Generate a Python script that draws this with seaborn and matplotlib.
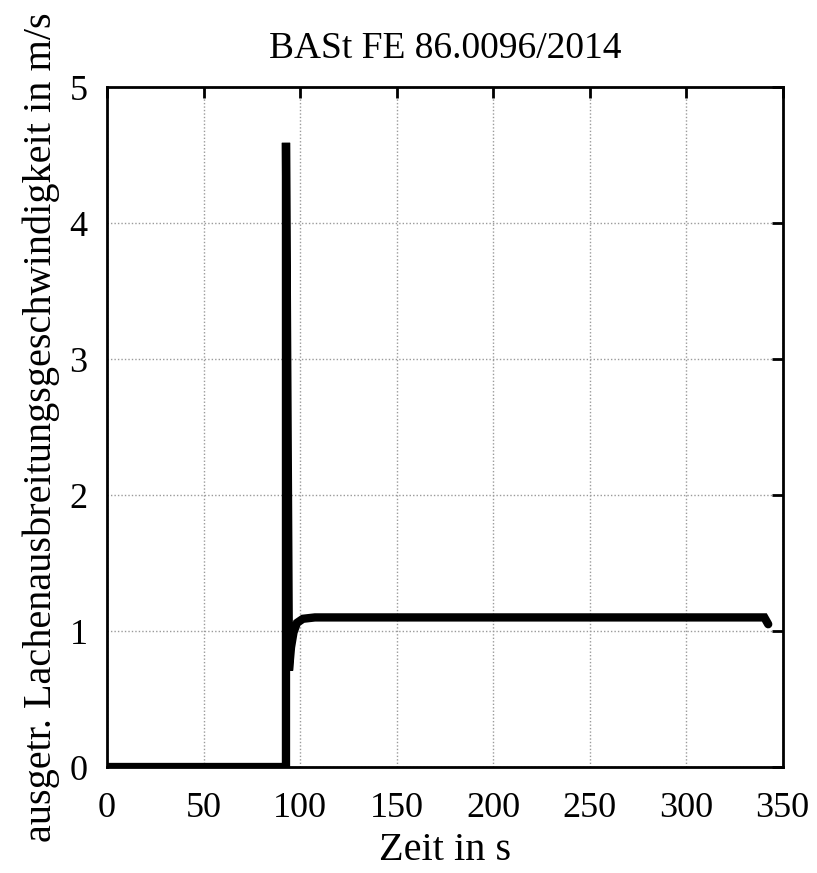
import matplotlib
matplotlib.use("Agg")
import matplotlib.pyplot as plt
import seaborn as sns
import pandas as pd

# data
zeit = [0, 92.5, 92.7, 92.7, 94.25, 95.3, 96.6, 98.4, 101.5, 107.7, 150, 200, 250, 300, 340.5, 342.5]
geschw = [0, 0, 0, 4.59, 0.71, 0.88, 0.99, 1.06, 1.09, 1.10, 1.10, 1.10, 1.10, 1.10, 1.10, 1.05]
xticks = [0, 50, 100, 150, 200, 250, 300, 350]
yticks = [0, 1, 2, 3, 4, 5]

title = "BASt FE 86.0096/2014"
xlabel = "Zeit in s"
ylabel = "ausgetr. Lachenausbreitungsgeschwindigkeit in m/s"

sns.set_theme(style="white")
plt.rcParams["font.family"] = ["Liberation Serif", "DejaVu Serif"]
plt.rcParams["text.color"] = "black"
plt.rcParams["axes.labelcolor"] = "black"

df = pd.DataFrame({"Zeit": zeit, "v": geschw})

fig = plt.figure(figsize=(8.17, 8.73), dpi=100)
ax = fig.add_axes([0.131, 0.1214, 0.827, 0.7789])

sns.lineplot(data=df, x="Zeit", y="v", sort=False, estimator=None,
             color="black", lw=6, ax=ax, solid_joinstyle="miter", zorder=5)

ax.set_xlim(0, 350)
ax.set_ylim(0, 5)
ax.set_xticks(xticks)
ax.set_yticks(yticks)
ax.set_xticklabels([str(t) for t in xticks])
ax.set_yticklabels([str(t) for t in yticks])
ax.grid(True, linestyle=(0, (1, 1.5)), color="#9a9a9a", lw=1.0)
ax.tick_params(direction="in", length=8, width=2, top=True, right=True,
               labelsize=26, colors="black")
ax.tick_params(axis="x", pad=18)
ax.tick_params(axis="y", pad=14)
for s in ax.spines.values():
    s.set_linewidth(2)
    s.set_color("black")

ax.set_title(title, fontsize=27, pad=21, color="black")
ax.set_xlabel(xlabel, fontsize=29, labelpad=5)
ax.set_ylabel(ylabel, fontsize=29, labelpad=7)

fig.savefig("out.png", dpi=100)
